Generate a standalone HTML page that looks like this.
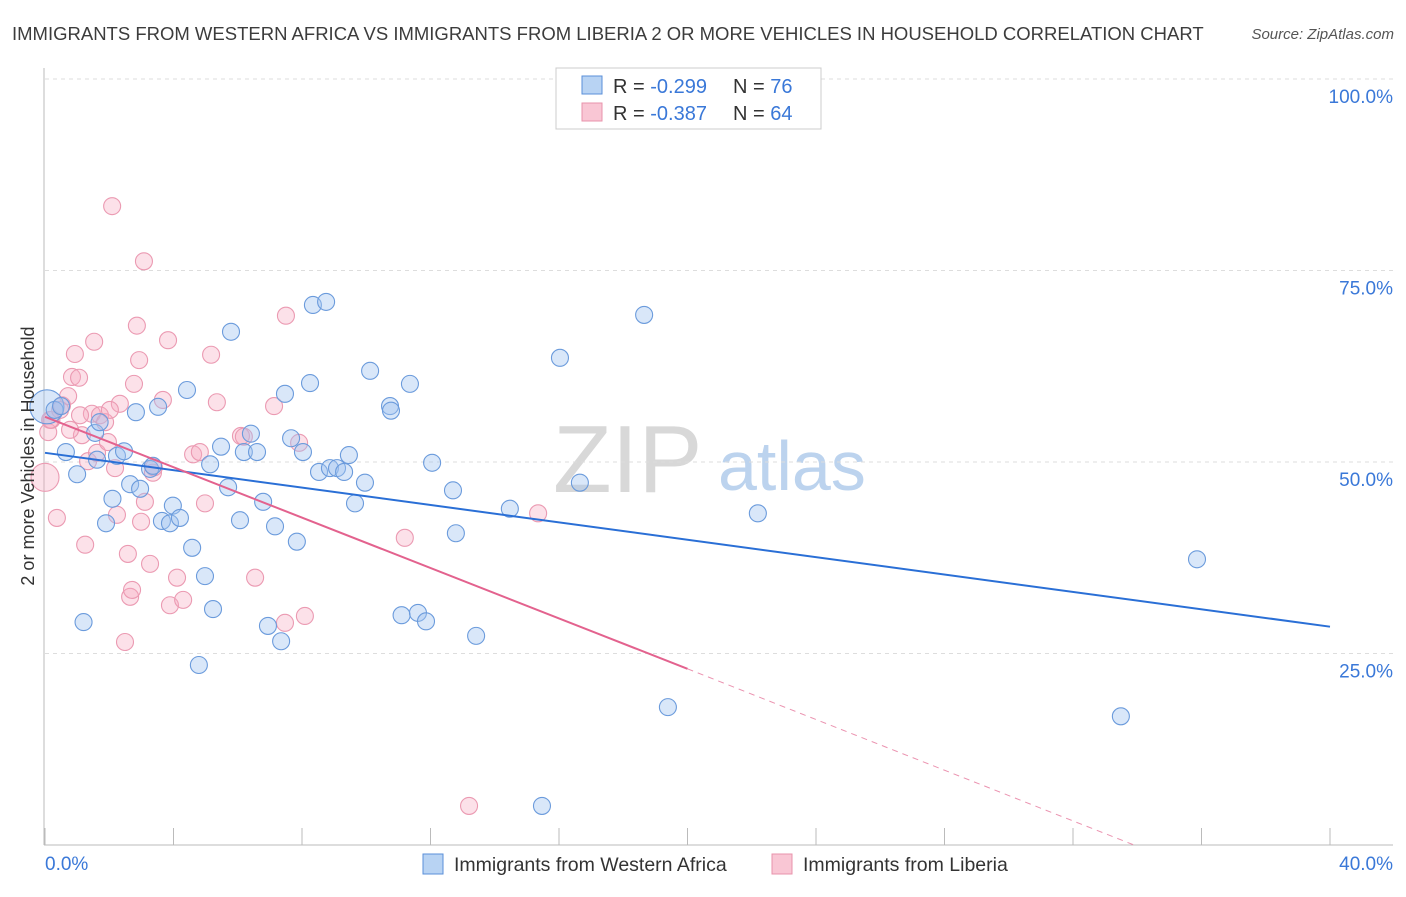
<!DOCTYPE html>
<html><head><meta charset="utf-8"><style>
body{margin:0;background:#fff;font-family:"Liberation Sans",sans-serif;}
svg text{font-family:"Liberation Sans",sans-serif;}
</style></head><body>
<svg id="chart" width="1406" height="892" xmlns="http://www.w3.org/2000/svg">
<text x="12" y="40" font-size="18.5" fill="#3c3c3c">IMMIGRANTS FROM WESTERN AFRICA VS IMMIGRANTS FROM LIBERIA 2 OR MORE VEHICLES IN HOUSEHOLD CORRELATION CHART</text>
<text x="1394" y="39" font-size="15" fill="#555" font-style="italic" text-anchor="end">Source: ZipAtlas.com</text>
<g>
<text x="553" y="492" font-size="96" font-family="Liberation Serif" fill="#d8d8d8">ZIP</text>
<text x="718" y="490" font-size="70" fill="#bcd3ee">atlas</text>
</g>
<g id="grid"></g>
<g id="axes"></g>
<g id="marks"></g>
<g id="lines"></g>
<g>
<rect x="556" y="68" width="265" height="61" fill="#fff" stroke="#ccc"/>
<rect x="582" y="76" width="20" height="18" fill="#b8d3f3" stroke="#5a8fd8"/>
<rect x="582" y="103" width="20" height="18" fill="#f9c6d4" stroke="#e893ab"/>
<text x="613" y="93" font-size="20" fill="#333">R = <tspan fill="#3a78d8">-0.299</tspan></text>
<text x="733" y="93" font-size="20" fill="#333">N = <tspan fill="#3a78d8">76</tspan></text>
<text x="613" y="120" font-size="20" fill="#333">R = <tspan fill="#3a78d8">-0.387</tspan></text>
<text x="733" y="120" font-size="20" fill="#333">N = <tspan fill="#3a78d8">64</tspan></text>
</g>
<g>
<rect x="423" y="854" width="20" height="20" fill="#b8d3f3" stroke="#5a8fd8"/>
<text x="454" y="871" font-size="19.5" fill="#333">Immigrants from Western Africa</text>
<rect x="772" y="854" width="20" height="20" fill="#f9c6d4" stroke="#e893ab"/>
<text x="803" y="871" font-size="19.5" fill="#333">Immigrants from Liberia</text>
</g>
<text transform="translate(34,456) rotate(-90)" font-size="18" fill="#333" text-anchor="middle">2 or more Vehicles in Household</text>
</svg>
<script>
const yTicks=[25,50,75,100];
const yTickLabels=["25.0%","50.0%","75.0%","100.0%"];
const xTicks=[0,4,8,12,16,20,24,28,32,36,40];
const blueX=[0.06,0.3,0.5,0.65,1.0,1.2,1.56,1.7,1.9,2.1,2.24,2.46,2.65,2.83,2.96,3.27,3.36,3.52,3.64,3.89,3.98,4.2,4.42,4.58,4.79,4.98,5.14,5.23,5.48,5.7,5.79,6.07,6.19,6.41,6.6,6.79,6.94,7.16,7.35,7.47,7.66,7.84,8.03,8.25,8.34,8.53,8.75,8.87,9.09,9.31,9.46,9.65,9.96,10.12,10.74,10.77,11.1,11.36,11.61,11.86,12.05,12.7,12.79,13.42,14.47,15.47,16.03,16.65,18.65,19.39,22.19,33.49,35.86,1.62];
const blueY=[57.2,56.8,57.3,51.3,48.4,29.1,53.8,55.2,42.0,45.2,50.8,51.4,47.1,56.5,46.5,49.1,49.5,57.2,42.3,42.0,44.3,42.7,59.4,38.8,23.5,35.1,49.7,30.8,52.0,46.7,67.0,42.4,51.3,53.7,51.3,44.8,28.6,41.6,26.6,58.9,53.1,39.6,51.3,60.3,70.5,48.7,70.9,49.2,49.2,48.7,50.9,44.6,47.3,61.9,57.3,56.7,30.0,60.2,30.3,29.2,49.9,46.3,40.7,27.3,43.9,5.1,63.6,47.3,69.2,18.0,43.3,16.8,37.3,50.3];
const pinkX=[0,0.1,0.2,0.37,0.53,0.72,0.84,0.93,1.06,1.15,1.25,1.34,1.46,1.53,1.62,1.71,1.87,1.96,2.09,2.18,2.24,2.33,2.49,2.58,2.65,2.71,2.77,2.86,2.93,2.99,3.08,3.11,3.27,3.36,3.39,3.67,3.83,3.89,4.11,4.3,4.61,4.82,4.98,5.17,5.35,6.1,6.19,6.54,7.13,7.47,7.5,7.91,8.09,11.2,13.2,15.35,0.16,0.47,0.78,1.09,2.02];
const pinkY=[48.0,53.9,55.5,42.7,57.4,58.6,61.1,64.1,61.0,53.5,39.2,50.1,56.3,65.7,51.2,56.1,55.2,52.6,83.4,49.2,43.1,57.6,26.5,38.0,32.4,33.3,60.2,67.8,63.3,42.2,76.2,44.8,36.7,48.6,49.3,58.1,65.9,31.3,34.9,32.0,51.0,51.3,44.6,64.0,57.8,53.4,53.3,34.9,57.3,29.0,69.1,52.5,29.9,40.1,5.1,43.3,55.5,56.8,54.2,56.1,56.8];
const blueTrend=[[0,51.2],[40,28.5]];
const pinkTrend=[[0,55.9],[20,23.0]];
const pinkTrendExt=[[20,23.0],[33.9,0]];
const NS="http://www.w3.org/2000/svg";
const sx=v=>45+v*(1285/40);
const sy=v=>845-v*7.66;
function mk(tag,attrs,parent){const e=document.createElementNS(NS,tag);for(const k in attrs)e.setAttribute(k,attrs[k]);document.getElementById(parent).appendChild(e);return e;}
yTicks.forEach((t,i)=>{
 const g=mk('line',{x1:45,x2:1393,y1:sy(t),y2:sy(t),stroke:'#ddd','stroke-dasharray':'4,4'},'grid');
 
 
 const l=mk('text',{x:1393,y:sy(t)+24,'font-size':19,fill:'#3a78d8','text-anchor':'end'},'axes');
 l.textContent=yTickLabels[i];
 
 
});
const topGrid=mk('line',{x1:45,x2:1393,y1:79,y2:79,stroke:'#ddd','stroke-dasharray':'4,4'},'grid');


const ya=mk('line',{x1:44,x2:44,y1:68,y2:845,stroke:'#bbb'},'axes');


const xa=mk('line',{x1:44,x2:1393,y1:845,y2:845,stroke:'#bbb'},'axes');


xTicks.forEach(t=>{
 const k=mk('line',{x1:sx(t),x2:sx(t),y1:828,y2:845,stroke:'#bbb'},'axes');
 
 
});
const xMinLabel=mk('text',{x:45,y:870,'font-size':19,fill:'#3a78d8'},'axes');xMinLabel.textContent='0.0%';


const xMaxLabel=mk('text',{x:1393,y:870,'font-size':19,fill:'#3a78d8','text-anchor':'end'},'axes');xMaxLabel.textContent='40.0%';


pinkX.forEach((v,i)=>{
 const c=mk('circle',{cx:sx(v),cy:sy(pinkY[i]),r:i===0?14:8.5,fill:'rgba(246,170,192,0.35)',stroke:'#eb9ab2','stroke-width':1.1},'marks');
 
 
});
blueX.forEach((v,i)=>{
 const c=mk('circle',{cx:sx(v),cy:sy(blueY[i]),r:i===0?17:8.5,fill:'rgba(160,196,240,0.4)',stroke:'#6b9bdc','stroke-width':1.1},'marks');
 
 
});
const bl=mk('line',{x1:sx(blueTrend[0][0]),y1:sy(blueTrend[0][1]),x2:sx(blueTrend[1][0]),y2:sy(blueTrend[1][1]),stroke:'#2a6fd6','stroke-width':2},'lines');


const pl=mk('line',{x1:sx(pinkTrend[0][0]),y1:sy(pinkTrend[0][1]),x2:sx(pinkTrend[1][0]),y2:sy(pinkTrend[1][1]),stroke:'#e3628e','stroke-width':2},'lines');


const pd=mk('line',{x1:sx(pinkTrendExt[0][0]),y1:sy(pinkTrendExt[0][1]),x2:sx(pinkTrendExt[1][0]),y2:sy(pinkTrendExt[1][1]),stroke:'#eb93b0','stroke-width':1,'stroke-dasharray':'6,5'},'lines');


</script>
</body></html>
